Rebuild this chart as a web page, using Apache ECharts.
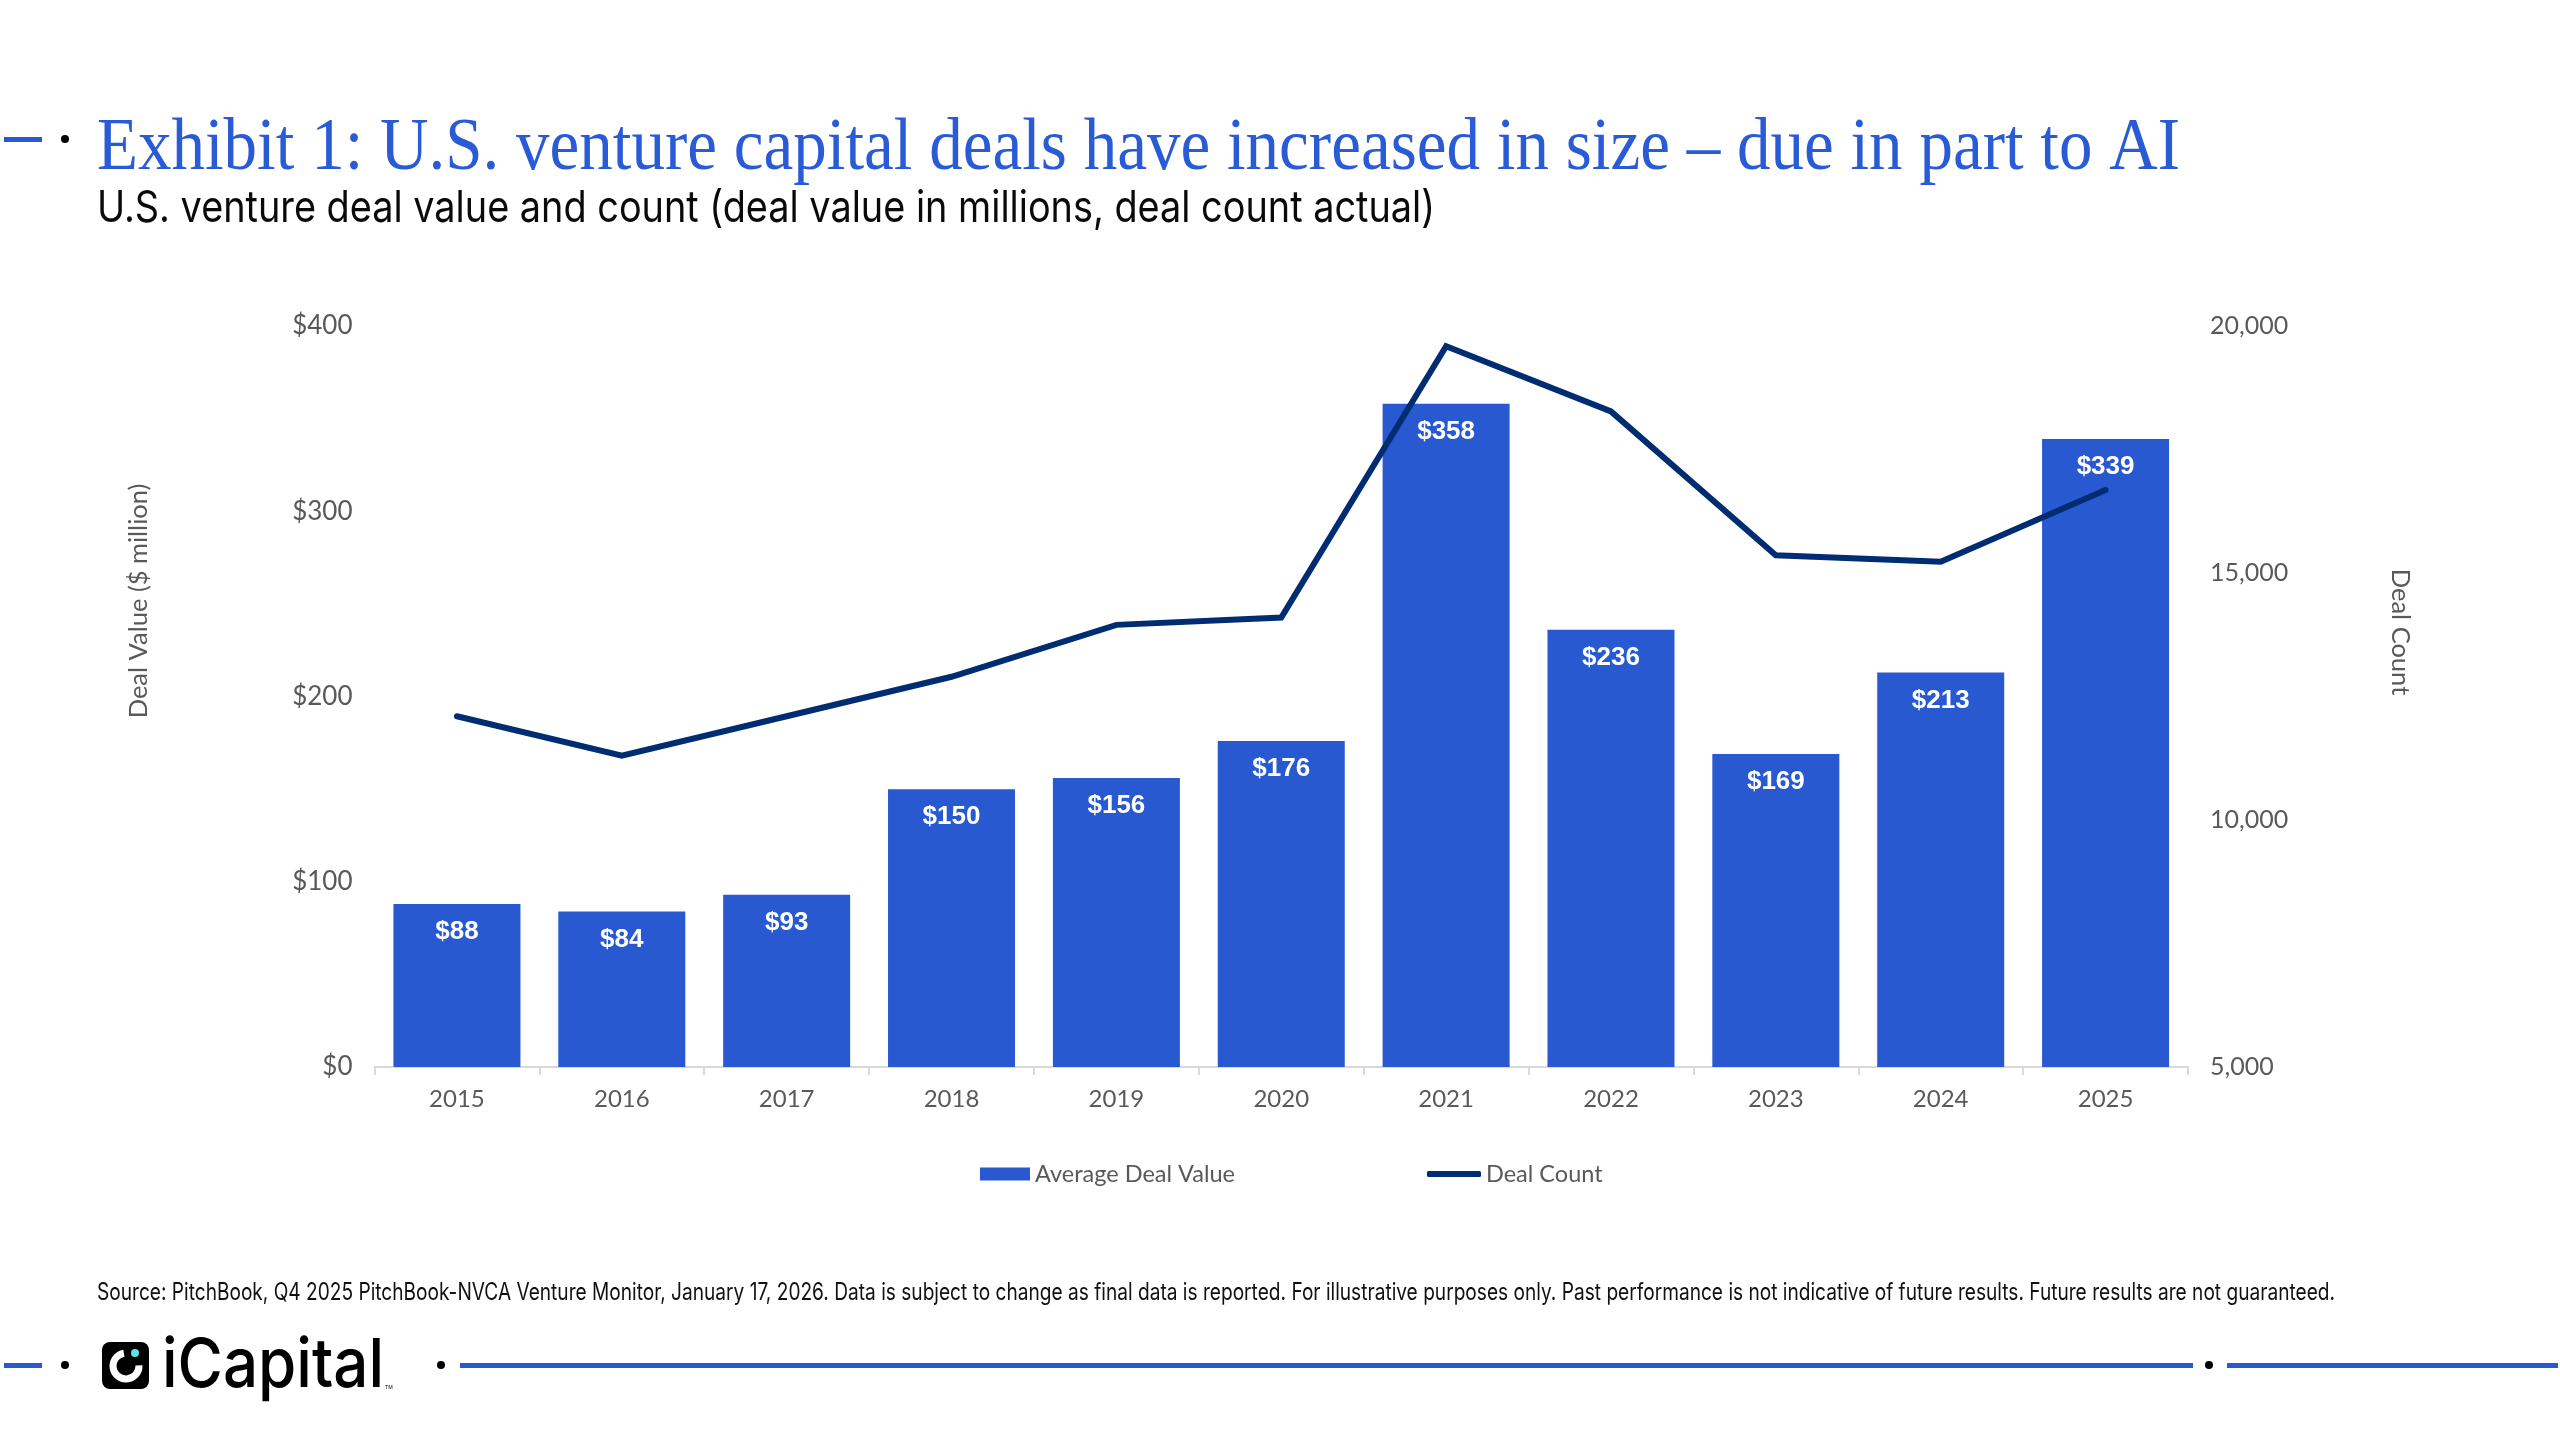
<!DOCTYPE html>
<html><head><meta charset="utf-8">
<style>html,body{margin:0;padding:0;background:#fff}#c{width:2560px;height:1437px}</style>
<script src="https://cdn.jsdelivr.net/npm/echarts@6/dist/echarts.min.js"></script>
</head><body><div id="c"></div>
<script>
const categories=['2015','2016','2017','2018','2019','2020','2021','2022','2023','2024','2025'];
const dealValue=[88,84,93,150,156,176,358,236,169,213,339];
const dealCount=[12100,11300,12100,12900,13950,14100,19590,18270,15360,15230,16680];
const titleText='Exhibit 1: U.S. venture capital deals have increased in size – due in part to AI';
const subtitleText='U.S. venture deal value and count (deal value in millions, deal count actual)';
const sourceText='Source: PitchBook, Q4 2025 PitchBook-NVCA Venture Monitor, January 17, 2026. Data is subject to change as final data is reported. For illustrative purposes only. Past performance is not indicative of future results. Future results are not guaranteed.';
const BLUE='#2859D1',NAVY='#002D72',GREY='#595959',SANS='Lato';
const ctx=document.createElement('canvas').getContext('2d');
function fit(text,font,width){ctx.font=font;return width/ctx.measureText(text).width;}
function fitted(text,font,fill,x,y,width){
  return {type:'text',x:x,y:y,scaleX:fit(text,font,width),scaleY:1,originX:0,originY:0,silent:true,
    style:{text:text,x:0,y:0,font:font,fill:fill,align:'left',verticalAlign:'middle'}};
}
function rule(x,y,w,h){return {type:'rect',silent:true,shape:{x:x,y:y,width:w,height:h},style:{fill:BLUE}};}
function dot(x,y,r,c){return {type:'circle',silent:true,shape:{cx:x,cy:y,r:r},style:{fill:c||'#000'}};}
function rotated(text,x,y,rot){return {type:'text',x:x,y:y,rotation:rot,silent:true,
  style:{text:text,x:0,y:0,font:'25.5px '+SANS,fill:GREY,align:'center',verticalAlign:'middle'}};}

const chart=echarts.init(document.getElementById('c'),null,{renderer:'canvas',width:2560,height:1437});
chart.setOption({
  animation:false,backgroundColor:'#fff',
  grid:{left:374.5,right:372,top:326,bottom:370,containLabel:false},
  legend:[
    {data:['Average Deal Value'],left:980,top:1162,padding:0,itemWidth:50,itemHeight:13,itemGap:0,
     textStyle:{color:GREY,fontFamily:SANS,fontSize:23.5},icon:'rect'},
    {data:['Deal Count'],left:1427,top:1162,padding:0,itemWidth:54,itemHeight:6,itemGap:0,
     textStyle:{color:GREY,fontFamily:SANS,fontSize:23.5},icon:'roundRect'}
  ],
  xAxis:{type:'category',data:categories,boundaryGap:true,
    axisLine:{show:true,lineStyle:{color:'#D9D9D9',width:2}},
    axisTick:{show:true,alignWithLabel:false,length:8,lineStyle:{color:'#D9D9D9',width:2}},
    axisLabel:{color:GREY,fontFamily:SANS,fontSize:24,margin:20},splitLine:{show:false}},
  yAxis:[
    {type:'value',min:0,max:400,interval:100,splitLine:{show:false},axisLine:{show:false},axisTick:{show:false},
     axisLabel:{color:GREY,fontFamily:SANS,fontSize:26,margin:22,formatter:v=>'$'+v}},
    {type:'value',min:5000,max:20000,interval:5000,position:'right',splitLine:{show:false},axisLine:{show:false},axisTick:{show:false},
     axisLabel:{color:GREY,fontFamily:SANS,fontSize:25,margin:22,formatter:v=>v.toLocaleString('en-US')}}
  ],
  series:[
    {name:'Average Deal Value',type:'bar',data:dealValue,yAxisIndex:0,barWidth:127,itemStyle:{color:BLUE},
     label:{show:true,position:'insideTop',distance:15,color:'#fff',fontFamily:'Liberation Sans',fontWeight:'bold',fontSize:26,formatter:p=>'$'+p.value}},
    {name:'Deal Count',type:'line',data:dealCount,yAxisIndex:1,symbol:'none',showSymbol:false,
     lineStyle:{color:NAVY,width:6,cap:'round',join:'miter'},itemStyle:{color:NAVY}}
  ],
  graphic:[
    fitted(titleText,'75px "Liberation Serif"','#2A5BD7',97,149,2083),
    fitted(subtitleText,'44px Inter','#0A0A0A',97,209,1338),
    fitted(sourceText,'24px Inter','#111111',97,1293,2238),
    rotated('Deal Value ($ million)',139,601,Math.PI/2),
    rotated('Deal Count',2400,632,-Math.PI/2),
    rule(4,137,38,5),dot(65,139,4),
    rule(4,1363,38,5),dot(65,1365,4),
    {type:'rect',silent:true,shape:{x:102,y:1342,width:47,height:47,r:8},style:{fill:'#000'}},
    {type:'arc',silent:true,shape:{cx:126,cy:1366,r:13,startAngle:-0.05,endAngle:4.55,clockwise:true},style:{fill:'none',stroke:'#fff',lineWidth:7}},
    dot(135,1353,4,'#5FE3E6'),
    fitted('iCapital','500 68px Inter','#000',162,1367,222),
    {type:'text',silent:true,x:385,y:1385,style:{text:'TM',x:0,y:0,font:'5px Inter',fill:'#000'}},
    dot(441,1365,4),rule(460,1363,1733,5),dot(2209,1365,4),rule(2227,1363,331,5)
  ]
});
</script></body></html>
